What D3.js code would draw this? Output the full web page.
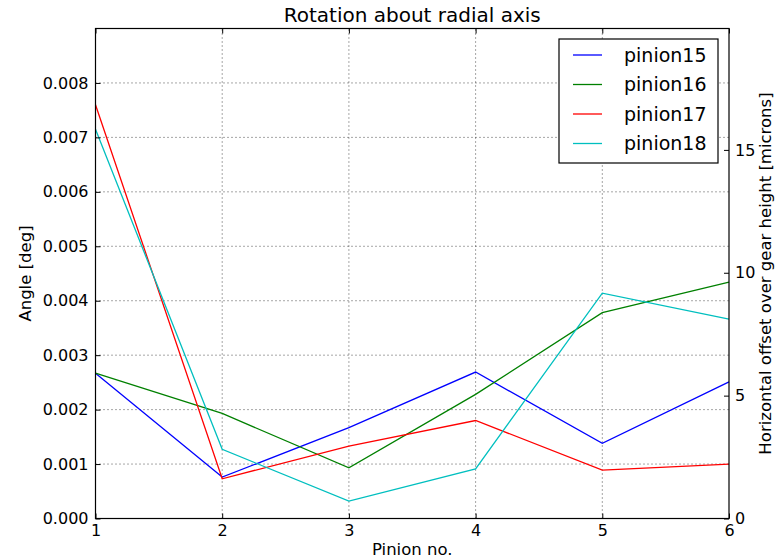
<!DOCTYPE html>
<html lang="en">
<head>
  <meta charset="UTF-8">
  <title>Rotation about radial axis</title>
  <script src="https://d3js.org/d3.v7.min.js"></script>
  <style>
    body { margin: 0; background: #fff; }
    text { font-family: "DejaVu Sans", sans-serif; fill: #000; }
    .grid line { stroke: #000; stroke-opacity: 0.7; stroke-width: 1; stroke-dasharray: 1,3; }
    .series { fill: none; stroke-width: 1.3; }
  </style>
</head>
<body>
  <svg width="782" height="559"></svg>
  <script>
const pinions = [1, 2, 3, 4, 5, 6];
const seriesNames = ["pinion15", "pinion16", "pinion17", "pinion18"];
const seriesColors = ["#0000ff", "#008000", "#ff0000", "#00bfbf"];
const pinion15 = [0.00267, 0.00076, 0.00167, 0.00269, 0.00138, 0.00251];
const pinion16 = [0.00267, 0.00193, 0.00093, 0.00228, 0.00378, 0.00434];
const pinion17 = [0.00760, 0.00073, 0.00133, 0.00180, 0.00089, 0.00100];
const pinion18 = [0.00715, 0.00127, 0.00032, 0.00091, 0.00414, 0.00366];
const angleTicks = [0, 0.001, 0.002, 0.003, 0.004, 0.005, 0.006, 0.007, 0.008];
const micronTicks = [0, 5, 10, 15];

    const seriesValues = [pinion15, pinion16, pinion17, pinion18];

    const margin = { left: 95.5, right: 53, top: 28.5, bottom: 40.5 };
    const width = 782, height = 559;
    const svg = d3.select("svg");

    const x = d3.scaleLinear().domain([1, 6]).range([margin.left, width - margin.right]);
    const y = d3.scaleLinear().domain([0, 0.009]).range([height - margin.bottom, margin.top]);
    const y2 = d3.scaleLinear().domain([0, 19.94]).range([height - margin.bottom, margin.top]);

    // grid
    const grid = svg.append("g").attr("class", "grid");
    grid.selectAll(".gx").data(pinions.slice(1, -1)).enter().append("line")
      .attr("x1", d => x(d)).attr("x2", d => x(d))
      .attr("y1", y.range()[0]).attr("y2", y.range()[1]);
    grid.selectAll(".gy").data(angleTicks.slice(1)).enter().append("line")
      .attr("x1", x.range()[0]).attr("x2", x.range()[1])
      .attr("y1", d => y(d)).attr("y2", d => y(d));

    // series
    const line = d3.line().x((d, i) => x(pinions[i])).y(d => y(d));
    svg.append("g").selectAll("path").data(seriesValues).enter().append("path")
      .attr("class", "series")
      .attr("stroke", (d, i) => seriesColors[i])
      .attr("d", line);

    // axes with inward ticks
    const tick = 5;
    svg.append("g").attr("transform", `translate(0,${y.range()[0]})`)
      .call(d3.axisBottom(x).tickValues(pinions).tickFormat(d3.format("d")).tickSizeInner(-tick).tickSizeOuter(0).tickPadding(6))
      .call(g => g.select(".domain").remove())
      .call(g => g.selectAll("text").attr("font-size", 16).attr("font-family", "DejaVu Sans"));
    svg.append("g").attr("transform", `translate(0,${y.range()[1]})`)
      .call(d3.axisTop(x).tickValues(pinions).tickFormat("").tickSizeInner(-tick).tickSizeOuter(0))
      .call(g => g.select(".domain").remove());
    svg.append("g").attr("transform", `translate(${x.range()[0]},0)`)
      .call(d3.axisLeft(y).tickValues(angleTicks).tickFormat(d3.format(".3f")).tickSizeInner(-tick).tickSizeOuter(0).tickPadding(7))
      .call(g => g.select(".domain").remove())
      .call(g => g.selectAll("text").attr("font-size", 16).attr("font-family", "DejaVu Sans"));
    svg.append("g").attr("transform", `translate(${x.range()[1]},0)`)
      .call(d3.axisRight(y2).tickValues(micronTicks).tickSizeInner(-tick).tickSizeOuter(0).tickPadding(6))
      .call(g => g.select(".domain").remove())
      .call(g => g.selectAll("text").attr("font-size", 16).attr("font-family", "DejaVu Sans"));

    // frame
    svg.append("rect")
      .attr("x", x.range()[0]).attr("y", y.range()[1])
      .attr("width", x.range()[1] - x.range()[0])
      .attr("height", y.range()[0] - y.range()[1])
      .attr("fill", "none").attr("stroke", "#000").attr("stroke-width", 1.2);

    // labels
    svg.append("text").attr("x", (x.range()[0] + x.range()[1]) / 2).attr("y", 22)
      .attr("text-anchor", "middle").attr("font-size", 20).text("Rotation about radial axis");
    svg.append("text").attr("x", (x.range()[0] + x.range()[1]) / 2).attr("y", 555)
      .attr("text-anchor", "middle").attr("font-size", 16.5).text("Pinion no.");
    svg.append("text").attr("transform", `translate(31,${(y.range()[0] + y.range()[1]) / 2}) rotate(-90)`)
      .attr("text-anchor", "middle").attr("font-size", 16.5).text("Angle [deg]");
    svg.append("text").attr("transform", `translate(771,${(y.range()[0] + y.range()[1]) / 2}) rotate(-90)`)
      .attr("text-anchor", "middle").attr("font-size", 16.5).text("Horizontal offset over gear height [microns]");

    // legend
    const legend = svg.append("g").attr("transform", "translate(559,39)");
    legend.append("rect").attr("width", 159).attr("height", 124)
      .attr("fill", "#fff").attr("stroke", "#000").attr("stroke-width", 1.2);
    const items = legend.selectAll(".item").data(seriesNames).enter().append("g")
      .attr("transform", (d, i) => `translate(0,${16 + i * 29.5})`);
    items.append("line").attr("x1", 14).attr("x2", 43)
      .attr("stroke", (d, i) => seriesColors[i]).attr("stroke-width", 1.3);
    items.append("text").attr("x", 65).attr("dy", "0.35em").attr("font-size", 19).text(d => d);
  </script>
</body>
</html>
